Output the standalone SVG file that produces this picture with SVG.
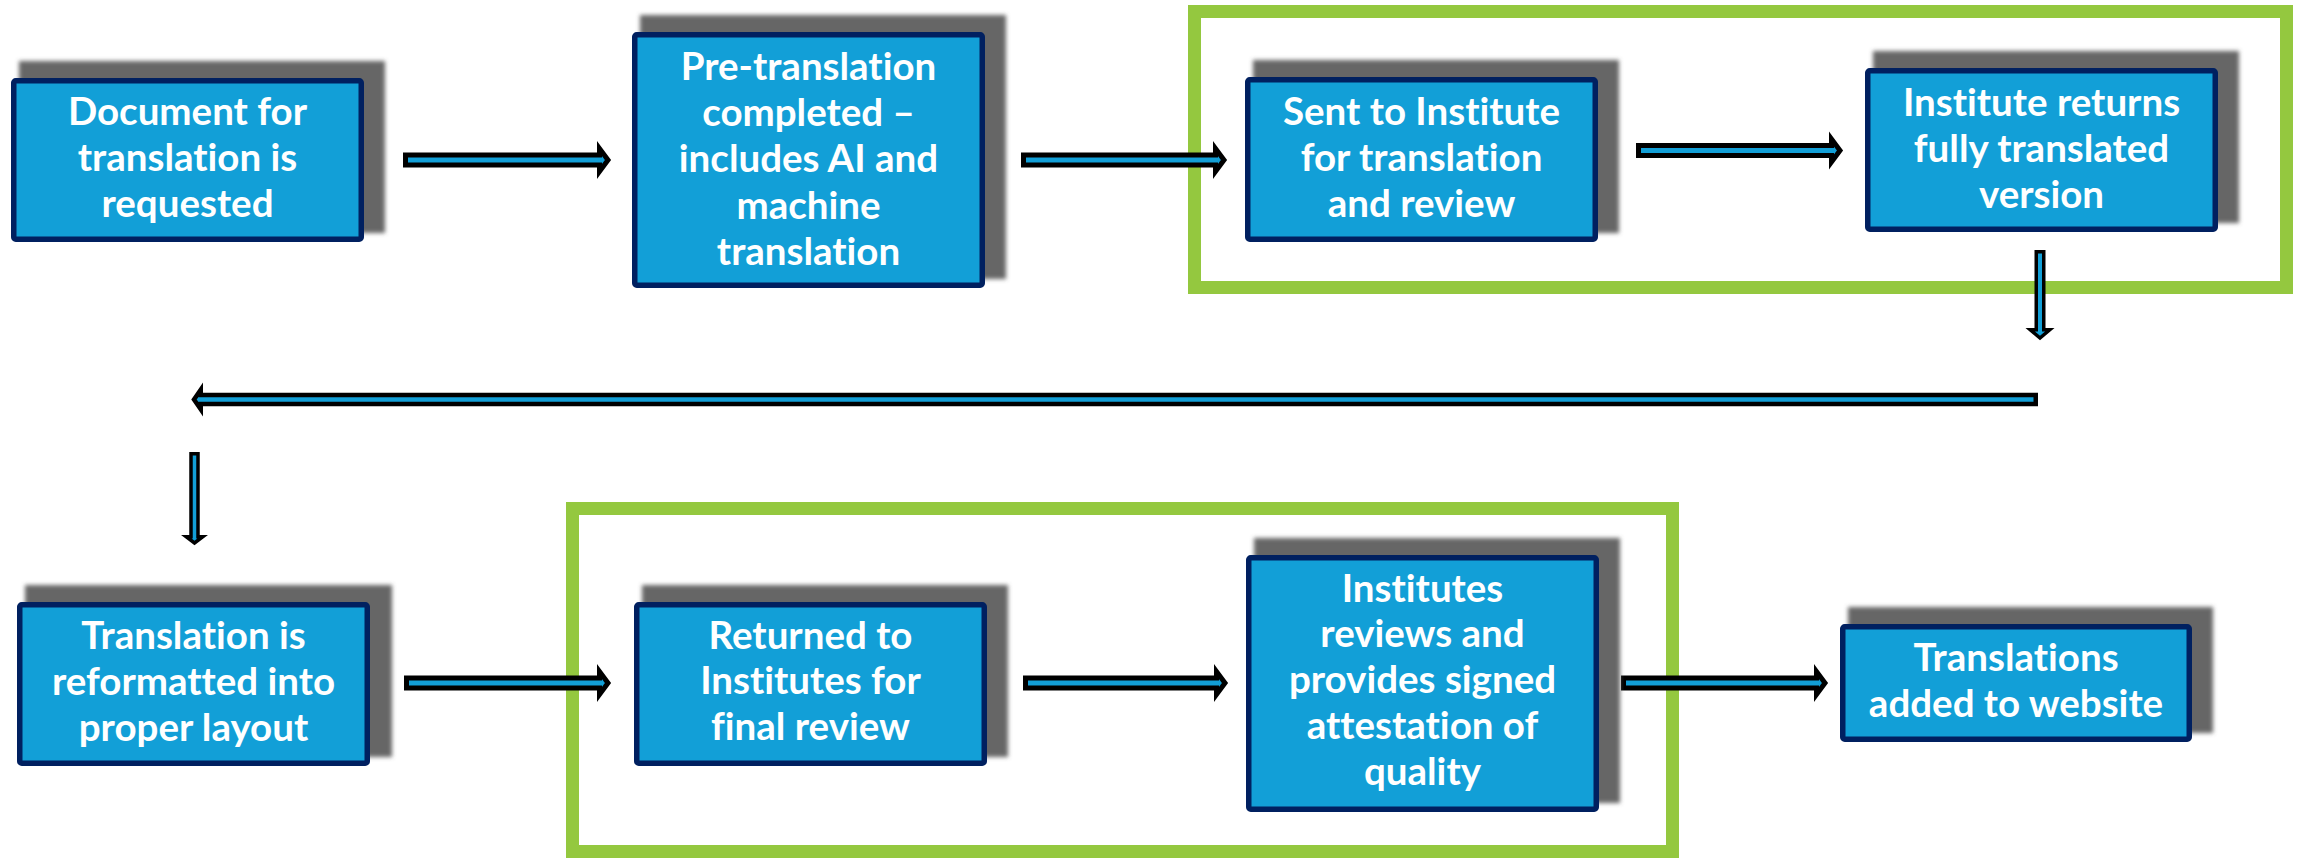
<svg xmlns="http://www.w3.org/2000/svg" width="2297" height="858" viewBox="0 0 2297 858">
  <style>
    .frame { fill: none; stroke: #94C83F; stroke-width: 13; }
    .shadow { fill: #666666; filter: url(#soft); }
    .box { fill: #129FD7; stroke: #002060; stroke-width: 5.5; }
    .label { font-family: Lato, "Liberation Sans", sans-serif; font-weight: 700; font-size: 38.5px; fill: #FFFFFF; text-anchor: middle; font-variant-ligatures: none; font-feature-settings: "liga" 0, "dlig" 0; }
    .arrow { fill: #129FD7; stroke: #000000; stroke-width: 5; stroke-linejoin: miter; stroke-miterlimit: 10; }
    .arrow.thin { stroke-width: 3.5; }
    .arrow.mid { stroke-width: 4.5; }
  </style>
  <defs>
    <filter id="soft" x="-10%" y="-10%" width="120%" height="120%">
      <feGaussianBlur stdDeviation="2.2"/>
    </filter>
  </defs>
  <rect width="2297" height="858" fill="#FFFFFF"/>

  <!-- Institute review stages -->
  <g id="frames">
    <rect class="frame" x="1194.5" y="11.5" width="1092" height="276"/>
    <rect class="frame" x="572.5" y="508.5" width="1100" height="343"/>
  </g>

  <g id="connectors">
    <path class="arrow" d="M405.5,155 L599.5,155 L599.5,148.5 L608,160 L599.5,171.5 L599.5,165 L405.5,165 Z"/>
    <path class="arrow" d="M1023.5,155 L1215.5,155 L1215.5,148.5 L1224,160 L1215.5,171.5 L1215.5,165 L1023.5,165 Z"/>
    <path class="arrow" d="M1638.5,145.5 L1831.5,145.5 L1831.5,139 L1840,150.5 L1831.5,162 L1831.5,155.5 L1638.5,155.5 Z"/>
    <path class="arrow thin" d="M2036.25,251.75 L2036.25,329.75 L2030.25,329.75 L2040,338 L2049.75,329.75 L2043.75,329.75 L2043.75,251.75 Z"/>
    <path class="arrow mid" d="M2035.75,395 L200.75,395 L200.75,389.75 L194,399.5 L200.75,409.25 L200.75,404 L2035.75,404 Z"/>
    <path class="arrow thin" d="M191,453.75 L191,536.75 L186.25,536.75 L194.5,543 L202.75,536.75 L198,536.75 L198,453.75 Z"/>
    <path class="arrow" d="M406.5,678 L599.5,678 L599.5,671.5 L608,683 L599.5,694.5 L599.5,688 L406.5,688 Z"/>
    <path class="arrow" d="M1025.5,678 L1216.5,678 L1216.5,671.5 L1225,683 L1216.5,694.5 L1216.5,688 L1025.5,688 Z"/>
    <path class="arrow" d="M1623.5,678 L1816.5,678 L1816.5,671.5 L1825,683 L1816.5,694.5 L1816.5,688 L1623.5,688 Z"/>
  </g>

  <g id="node-request">
    <rect class="shadow" x="19" y="61" width="366" height="172"/>
    <rect class="box" x="13.75" y="80.75" width="347.5" height="158.5" rx="2"/>
    <text class="label"><tspan x="187.5" y="125">Document for</tspan><tspan x="187.5" y="171">translation is</tspan><tspan x="187.5" y="217">requested</tspan></text>
  </g>

  <g id="node-pretranslation">
    <rect class="shadow" x="640" y="15" width="366" height="264"/>
    <rect class="box" x="634.75" y="34.75" width="347.5" height="250.5" rx="2"/>
    <text class="label"><tspan x="808.5" y="80">Pre-translation</tspan><tspan x="808.5" y="126">completed –</tspan><tspan x="808.5" y="172">includes AI and</tspan><tspan x="808.5" y="219">machine</tspan><tspan x="808.5" y="265">translation</tspan></text>
  </g>

  <g id="node-sent">
    <rect class="shadow" x="1253" y="60" width="366" height="173"/>
    <rect class="box" x="1247.75" y="79.75" width="347.5" height="159.5" rx="2"/>
    <text class="label"><tspan x="1421.5" y="125">Sent to Institute</tspan><tspan x="1421.5" y="171">for translation</tspan><tspan x="1421.5" y="217">and review</tspan></text>
  </g>

  <g id="node-returns">
    <rect class="shadow" x="1873" y="51" width="366" height="172"/>
    <rect class="box" x="1867.75" y="70.75" width="347.5" height="158.5" rx="2"/>
    <text class="label"><tspan x="2041.5" y="116">Institute returns</tspan><tspan x="2041.5" y="162">fully translated</tspan><tspan x="2041.5" y="208">version</tspan></text>
  </g>

  <g id="node-reformat">
    <rect class="shadow" x="25" y="585" width="367" height="172"/>
    <rect class="box" x="19.75" y="604.75" width="347.5" height="158.5" rx="2"/>
    <text class="label"><tspan x="193.5" y="649">Translation is</tspan><tspan x="193.5" y="695">reformatted into</tspan><tspan x="193.5" y="741">proper layout</tspan></text>
  </g>

  <g id="node-final-review">
    <rect class="shadow" x="642" y="585" width="366" height="172"/>
    <rect class="box" x="636.75" y="604.75" width="347.5" height="158.5" rx="2"/>
    <text class="label"><tspan x="810.5" y="649">Returned to</tspan><tspan x="810.5" y="694">Institutes for</tspan><tspan x="810.5" y="740">final review</tspan></text>
  </g>

  <g id="node-attestation">
    <rect class="shadow" x="1254" y="538" width="366" height="265"/>
    <rect class="box" x="1248.75" y="557.75" width="347.5" height="251.5" rx="2"/>
    <text class="label"><tspan x="1422.5" y="602">Institutes</tspan><tspan x="1422.5" y="647">reviews and</tspan><tspan x="1422.5" y="693">provides signed</tspan><tspan x="1422.5" y="739">attestation of</tspan><tspan x="1422.5" y="785">quality</tspan></text>
  </g>

  <g id="node-website">
    <rect class="shadow" x="1848" y="607" width="365" height="126"/>
    <rect class="box" x="1842.75" y="626.75" width="346.5" height="112.5" rx="2"/>
    <text class="label"><tspan x="2016" y="671">Translations</tspan><tspan x="2016" y="717">added to website</tspan></text>
  </g>
</svg>
